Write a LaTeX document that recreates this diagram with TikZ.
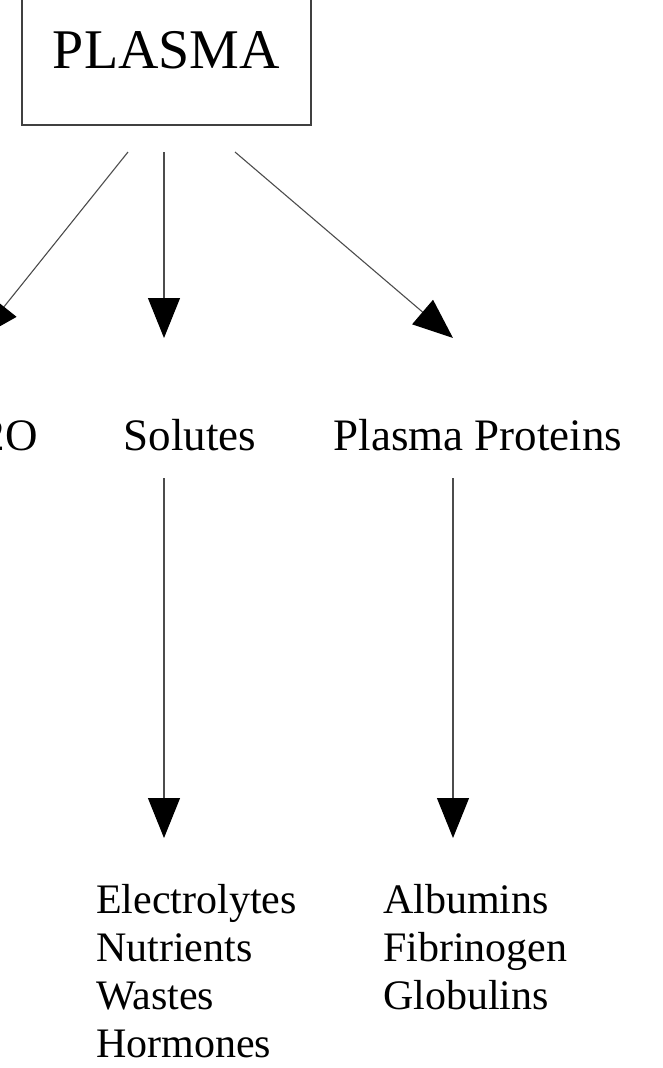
\documentclass[tikz,border=0pt]{standalone}
\usepackage{fontspec}
\setmainfont{Liberation Serif}
\usetikzlibrary{arrows.meta,positioning}
\tikzset{
  box/.style={draw=black!75, line width=1.2pt, inner sep=0pt, anchor=base},
  lbl/.style={font=\fontsize{45}{48}\selectfont, anchor=base, inner sep=0pt},
  lst/.style={font=\fontsize{42}{48}\selectfont, anchor=north west, inner sep=0pt, align=left},
  arr/.style={-{Triangle[length=40pt,width=32pt,color=black]}, black!70, line width=1.1pt},
}
\begin{document}
\begin{tikzpicture}[x=1pt,y=-1pt]
\useasboundingbox (0,0) rectangle (662,1068);
\clip (0,0) rectangle (662,1068);
%---- the top box
\node[box, font=\fontsize{56}{60}\selectfont, minimum width=289pt,
      text height=128pt, text depth=57pt] (plasma) at (166.5,68) {PLASMA};
%---- second row
\node[lbl] (water) at (-6,450) {H2O};
\node[lbl] (solutes) at (190,450) {Solutes};
\node[lbl] (proteins) at (478,450) {Plasma Proteins};
\coordinate (w-in) at (-21,338);
\coordinate (s-in) at (164,338);
\coordinate (p-in) at (453,338);
\draw[arr] (128,152) -- (w-in);
\draw[arr] (164,152) -- (s-in);
\draw[arr] (235,152) -- (p-in);
%---- the lists
\node[lst] (sollist) at (96,884)
  {Electrolytes\\Nutrients\\Wastes\\Hormones};
\node[lst] (protlist) at (383,884)
  {Albumins\\Fibrinogen\\Globulins};
\coordinate (s-out) at (164,478);
\coordinate (p-out) at (453,478);
\draw[arr] (s-out) -- (164,838);
\draw[arr] (p-out) -- (453,838);
\end{tikzpicture}
\end{document}
